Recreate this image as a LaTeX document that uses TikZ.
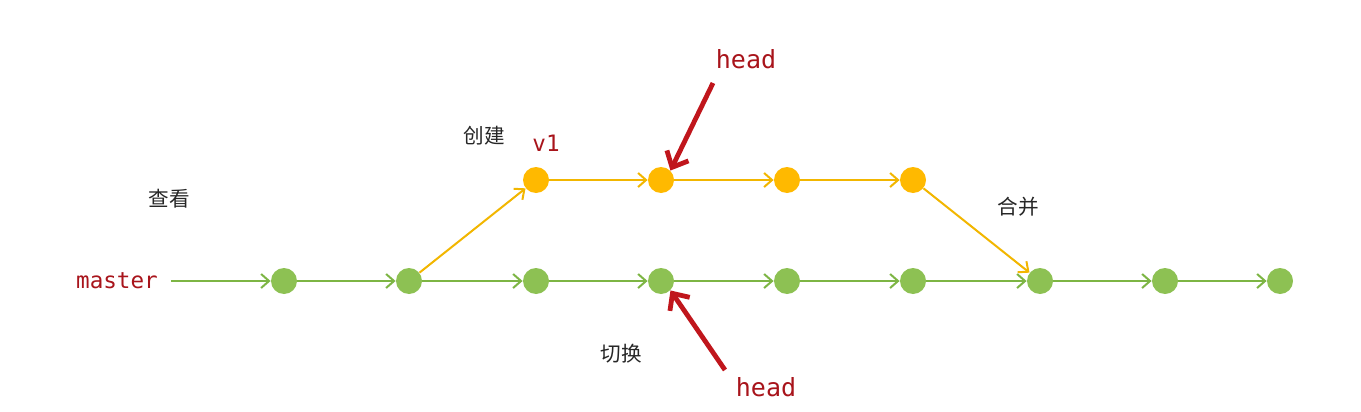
\documentclass[tikz,border=0pt]{standalone}
\usepackage{fontspec}
\newfontfamily\cjk{Noto Sans CJK SC}
\setmonofont{DejaVu Sans Mono}
\usetikzlibrary{arrows.meta}
\definecolor{commitgreen}{HTML}{8DC153}
\definecolor{linegreen}{HTML}{7DB544}
\definecolor{commitorange}{HTML}{FFB900}
\definecolor{lineorange}{HTML}{F2B600}
\definecolor{labelred}{HTML}{A8141B}
\definecolor{arrowred}{HTML}{C0161C}
\begin{document}
\begin{tikzpicture}[
        x=0.5pt, y=-0.5pt,
        greencommit/.style={circle, fill=commitgreen, inner sep=0pt, minimum size=13pt},
        orangecommit/.style={circle, fill=commitorange, inner sep=0pt, minimum size=13pt},
        greenline/.style={draw=linegreen, line width=1pt, -{Straight Barb[length=4pt,width=7pt]}},
        orangeline/.style={draw=lineorange, line width=1pt, -{Straight Barb[length=4pt,width=7pt]}},
        pointer/.style={draw=arrowred, line width=2.4pt, -{Straight Barb[length=6.5pt,width=12pt]}},
        reflabel/.style={text=labelred, font=\ttfamily\fontsize{11.3}{13}\selectfont},
        steplabel/.style={text=black!85, font=\cjk\fontsize{10.3}{12}\selectfont}
    ]

    % Canvas
    \useasboundingbox (0,0) rectangle (1361,412);

    % master branch
    \node[reflabel] (master) at (117,281) {master};
    \node[greencommit] (m1) at (284,281) {};
    \node[greencommit] (m2) at (409,281) {};
    \node[greencommit] (m3) at (536,281) {};
    \node[greencommit] (m4) at (661,281) {};
    \node[greencommit] (m5) at (787,281) {};
    \node[greencommit] (m6) at (913,281) {};
    \node[greencommit] (m7) at (1040,281) {};
    \node[greencommit] (m8) at (1165,281) {};
    \node[greencommit] (m9) at (1280,281) {};

    % v1 branch
    \node[orangecommit] (b1) at (536,180) {};
    \node[orangecommit] (b2) at (661,180) {};
    \node[orangecommit] (b3) at (787,180) {};
    \node[orangecommit] (b4) at (913,180) {};

    % Labels
    \node[reflabel] (v1) at (546,143) {v1};
    \node[reflabel, font=\ttfamily\fontsize{12.5}{14}\selectfont] (headtop) at (746,59) {head};
    \node[reflabel, font=\ttfamily\fontsize{12.5}{14}\selectfont] (headbot) at (766,387) {head};
    \node[steplabel] (view) at (169,199) {查看};
    \node[steplabel] (create) at (484,136) {创建};
    \node[steplabel] (merge) at (1018,207) {合并};
    \node[steplabel] (switch) at (621,354) {切换};
    \coordinate (toptail) at (713,83);
    \coordinate (bottail) at (725,370);

    % Commits on master
    \draw[greenline] (master.east) ++(6,0) -- (m1);
    \draw[greenline] (m1) -- (m2);
    \draw[greenline] (m2) -- (m3);
    \draw[greenline] (m3) -- (m4);
    \draw[greenline] (m4) -- (m5);
    \draw[greenline] (m5) -- (m6);
    \draw[greenline] (m6) -- (m7);
    \draw[greenline] (m7) -- (m8);
    \draw[greenline] (m8) -- (m9);

    % Commits on v1
    \draw[orangeline] (m2) -- (b1);
    \draw[orangeline] (b1) -- (b2);
    \draw[orangeline] (b2) -- (b3);
    \draw[orangeline] (b3) -- (b4);
    \draw[orangeline] (b4) -- (m7);

    % head pointers
    \draw[pointer] (toptail) -- (b2.north east);
    \draw[pointer] (bottail) -- (m4.south east);

\end{tikzpicture}
\end{document}
